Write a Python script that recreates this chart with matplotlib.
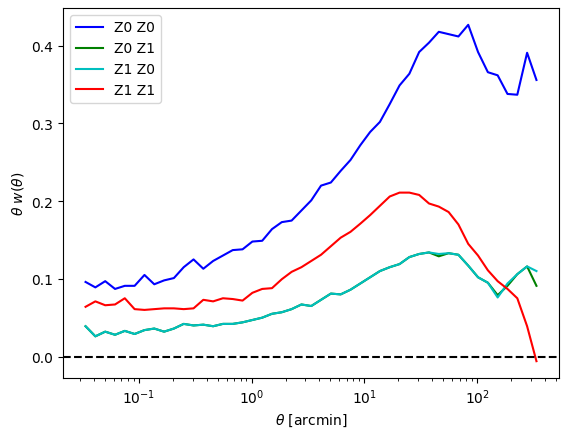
import matplotlib
matplotlib.use("Agg")
import matplotlib.pyplot as plt

# angular bins (arcmin)
theta = [0.0338, 0.0413, 0.0505, 0.0617, 0.0753, 0.0920, 0.1125, 0.1374,
         0.1679, 0.2051, 0.2506, 0.3062, 0.3738, 0.4566, 0.5578, 0.6815,
         0.8326, 1.017, 1.243, 1.518, 1.854, 2.266, 2.768, 3.382,
         4.130, 5.047, 6.166, 7.533, 9.203, 11.24, 13.73, 16.78,
         20.50, 25.04, 30.59, 37.38, 45.66, 55.78, 68.15, 83.26,
         101.7, 124.3, 151.8, 185.5, 226.6, 276.8, 335.0]

# theta * w(theta) for each redshift pair
z0z0 = [0.096, 0.089, 0.097, 0.087, 0.091, 0.091, 0.105, 0.093,
        0.098, 0.101, 0.115, 0.125, 0.113, 0.123, 0.130, 0.137,
        0.138, 0.148, 0.149, 0.164, 0.173, 0.175, 0.188, 0.201,
        0.220, 0.224, 0.239, 0.253, 0.272, 0.289, 0.302, 0.325,
        0.349, 0.364, 0.392, 0.404, 0.418, 0.415, 0.412, 0.427,
        0.392, 0.366, 0.362, 0.338, 0.337, 0.391, 0.356]

z1z0 = [0.039, 0.026, 0.032, 0.028, 0.033, 0.029, 0.034, 0.036,
        0.032, 0.036, 0.042, 0.040, 0.041, 0.039, 0.042, 0.042,
        0.044, 0.047, 0.050, 0.055, 0.057, 0.061, 0.067, 0.065,
        0.073, 0.081, 0.080, 0.086, 0.094, 0.102, 0.110, 0.115,
        0.119, 0.128, 0.132, 0.134, 0.132, 0.133, 0.131, 0.117,
        0.102, 0.095, 0.076, 0.094, 0.106, 0.116, 0.110]

z0z1 = list(z1z0)
z0z1[36] = 0.129
z0z1[42] = 0.079
z0z1[43] = 0.091
z0z1[46] = 0.091

z1z1 = [0.064, 0.071, 0.066, 0.067, 0.075, 0.061, 0.060, 0.061,
        0.062, 0.062, 0.061, 0.062, 0.073, 0.071, 0.075, 0.074,
        0.072, 0.082, 0.087, 0.088, 0.0995, 0.109, 0.115, 0.123,
        0.131, 0.142, 0.153, 0.1605, 0.171, 0.182, 0.194, 0.206,
        0.211, 0.211, 0.208, 0.197, 0.193, 0.186, 0.170, 0.145,
        0.130, 0.111, 0.097, 0.087, 0.075, 0.039, -0.006]

fig, ax = plt.subplots(figsize=(5.69, 4.39), dpi=100)
fig.subplots_adjust(left=63 / 569, right=559 / 569, top=1 - 9 / 439, bottom=1 - 379 / 439)

ax.plot(theta, z0z0, "b-", label="Z0 Z0")
ax.plot(theta, z0z1, "g-", label="Z0 Z1")
ax.plot(theta, z1z0, "c-", label="Z1 Z0")
ax.plot(theta, z1z1, "r-", label="Z1 Z1")
ax.axhline(0, color="k", linestyle="--")

ax.set_xscale("log")
ax.set_xlabel(r"$\theta$ [arcmin]")
ax.set_ylabel(r"$\theta\ w(\theta)$")
ax.legend(loc="upper left")

fig.savefig("out.png", dpi=100)
